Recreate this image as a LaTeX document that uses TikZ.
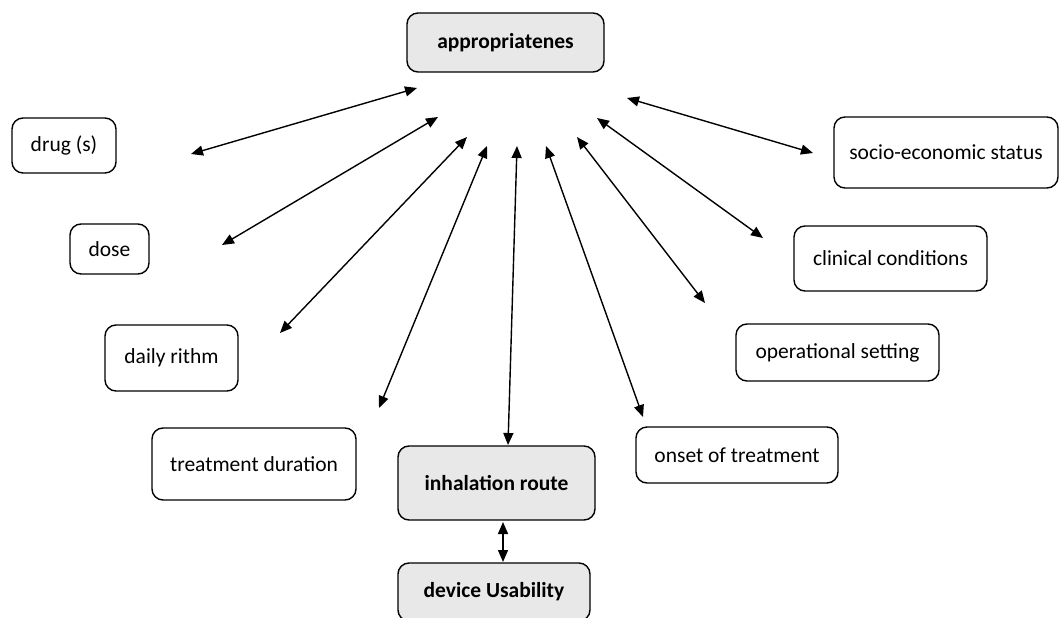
\documentclass[tikz,border=0pt]{standalone}
\usepackage{fontspec}
\setmainfont{Carlito}
\usepackage{tikz}
\usetikzlibrary{arrows.meta,positioning}

\begin{document}
\begin{tikzpicture}[x=1pt,y=-1pt,>={Triangle[length=12pt,width=10pt]},
  factor/.style={draw,line width=1.4pt,rounded corners=11pt,align=center,inner sep=0pt,
    font=\fontsize{21.5}{25}\selectfont},
  mainbox/.style={factor,fill=gray!18,font=\fontsize{21.5}{25}\selectfont\bfseries},
  link/.style={<->,line width=1.4pt}]
\useasboundingbox(0,0)rectangle(1060,618);
% boxes
\node[mainbox,minimum width=197pt,minimum height=59pt](approp)at(505.5,42.5){appropriatenes};
\node[factor,minimum width=104pt,minimum height=55pt](drug)at(64,145.5){drug (s)};
\node[factor,minimum width=79pt,minimum height=50pt](dose)at(109.5,249){dose};
\node[factor,minimum width=133pt,minimum height=66pt](rithm)at(171.5,358){daily rithm};
\node[factor,minimum width=204pt,minimum height=72pt](duration)at(254,464){treatment duration};
\node[mainbox,minimum width=197pt,minimum height=74pt](route)at(496.5,483){inhalation route};
\node[mainbox,minimum width=192pt,minimum height=58pt](device)at(494,592){device Usability};
\node[factor,minimum width=202pt,minimum height=56pt](onset)at(737,455){onset of treatment};
\node[factor,minimum width=203pt,minimum height=57pt](setting)at(837.5,352.5){operational setting};
\node[factor,minimum width=193pt,minimum height=65pt](clinical)at(890.5,258.5){clinical conditions};
\node[factor,minimum width=224pt,minimum height=71pt](socio)at(946,152.5){socio-economic status};
% arrow ends
\coordinate(t1)at(417,88);   \coordinate(b1)at(191,154);
\coordinate(t2)at(438,117);  \coordinate(b2)at(222,245);
\coordinate(t3)at(467,137);  \coordinate(b3)at(280,333);
\coordinate(t4)at(487,146);  \coordinate(b4)at(379,408);
\coordinate(t5)at(517,146);  \coordinate(b5)at(508,445);
\coordinate(t6)at(546,146);  \coordinate(b6)at(643,417);
\coordinate(t7)at(577,137);  \coordinate(b7)at(705,303);
\coordinate(t8)at(597,118);  \coordinate(b8)at(763,238);
\coordinate(t9)at(627,98);   \coordinate(b9)at(813,153);
\foreach \i in {1,...,9}
  \draw[link](t\i)--(b\i);
\coordinate(r1)at(503,522);  \coordinate(d1)at(503,562);
\draw[link](r1)--(d1);
\end{tikzpicture}
\end{document}
